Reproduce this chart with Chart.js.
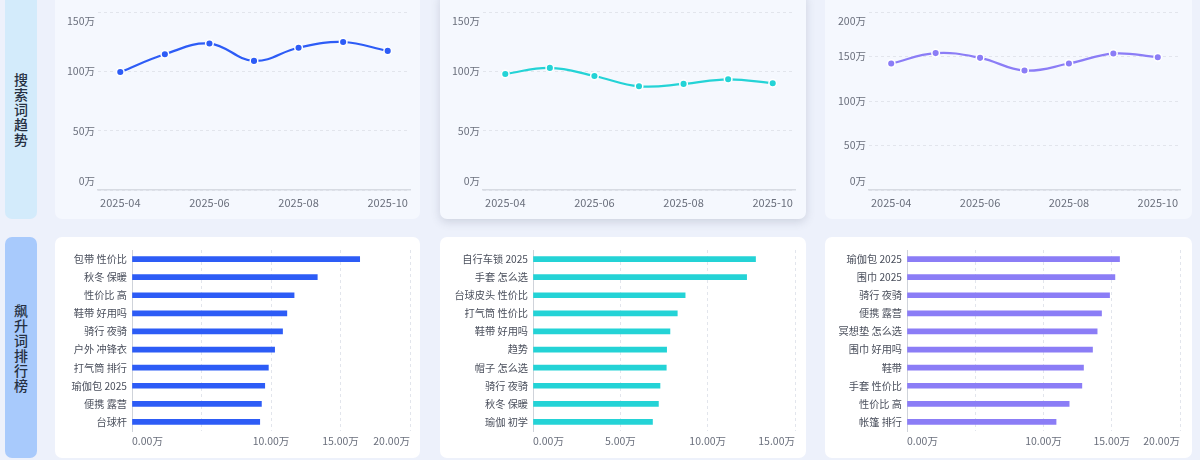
<!DOCTYPE html>
<html><head><meta charset="utf-8">
<script src="https://cdn.jsdelivr.net/npm/chart.js@4.4.1/dist/chart.umd.min.js"></script>
<style>
html,body{margin:0;padding:0;width:1200px;height:460px;overflow:hidden;background:#edf1fb;font-family:"Noto Sans CJK SC","Noto Sans",sans-serif;}
.side{position:absolute;left:5px;width:32px;display:flex;align-items:center;justify-content:center;}
.side span{display:block;text-align:center;font-size:14px;line-height:15px;color:#263042;font-weight:500;}
.s1{top:-8px;height:227px;border-radius:7px;background:#d3ebfb;}
.s1 span{margin-top:8px;}
.s2{top:237px;height:221px;border-radius:7px;background:#a8cafc;}
.panel{position:absolute;border-radius:7px;}
.top{top:-8px;height:227px;background:#f5f8fe;}
.bot{top:237px;height:221px;background:#ffffff;}
.hl{box-shadow:0 3px 10px rgba(60,70,100,0.18);}
.cw{position:absolute;}
</style></head><body>
<div class="side s1"><span>搜<br>索<br>词<br>趋<br>势</span></div>
<div class="side s2"><span>飙<br>升<br>词<br>排<br>行<br>榜</span></div>

<div class="panel top" style="left:55px;width:365px;"></div>
<div class="panel top hl" style="left:440px;width:366px;"></div>
<div class="panel top" style="left:825px;width:367px;"></div>
<div class="panel bot" style="left:55px;width:365px;"></div>
<div class="panel bot" style="left:440px;width:366px;"></div>
<div class="panel bot" style="left:825px;width:367px;"></div>

<div class="cw" style="left:55px;top:0;width:365px;height:219px;"><canvas id="l1"></canvas></div>
<div class="cw" style="left:440px;top:0;width:366px;height:219px;"><canvas id="l2"></canvas></div>
<div class="cw" style="left:825px;top:0;width:367px;height:219px;"><canvas id="l3"></canvas></div>
<div class="cw" style="left:55px;top:238px;width:365px;height:220px;"><canvas id="b1"></canvas></div>
<div class="cw" style="left:440px;top:238px;width:366px;height:220px;"><canvas id="b2"></canvas></div>
<div class="cw" style="left:825px;top:238px;width:367px;height:220px;"><canvas id="b3"></canvas></div>

<script>
// ---- data ----
const trendMonths = ['2025-04','2025-05','2025-06','2025-07','2025-08','2025-09','2025-10'];
const trendA = [99.4, 114.4, 123.4, 108.8, 119.9, 124.7, 117.2];
const trendB = [97.8, 102.9, 96.1, 87.4, 89.4, 93.3, 90.0];
const trendC = [142.1, 153.8, 148.5, 134.2, 142.1, 153.3, 149.2];
const trendMaxA = 150, trendMaxB = 150, trendMaxC = 200;

const rankLabelsA = ['包带 性价比','秋冬 保暖','性价比 高','鞋带 好用吗','骑行 夜骑','户外 冲锋衣','打气筒 排行','瑜伽包 2025','便携 露营','台球杆'];
const rankValuesA = [16.38, 13.33, 11.66, 11.14, 10.83, 10.26, 9.81, 9.55, 9.31, 9.19];
const rankLabelsB = ['自行车锁 2025','手套 怎么选','台球皮头 性价比','打气筒 性价比','鞋带 好用吗','趋势','帽子 怎么选','骑行 夜骑','秋冬 保暖','瑜伽 初学'];
const rankValuesB = [12.74, 12.23, 8.71, 8.26, 7.84, 7.65, 7.63, 7.27, 7.18, 6.84];
const rankLabelsC = ['瑜伽包 2025','围巾 2025','骑行 夜骑','便携 露营','冥想垫 怎么选','围巾 好用吗','鞋带','手套 性价比','性价比 高','帐篷 排行'];
const rankValuesC = [15.57, 15.23, 14.84, 14.25, 13.93, 13.59, 12.93, 12.81, 11.88, 10.92];
const rankTicksA = ['0.00万','','10.00万','15.00万','20.00万'];
const rankTicksB = ['0.00万','5.00万','10.00万','15.00万'];
const rankTicksC = ['0.00万','','10.00万','15.00万','20.00万'];
const rankMaxA = 20, rankMaxB = 15, rankMaxC = 20;

const colA = '#2d5cf6', colB = '#24d3d6', colC = '#8b7df6';
const FONT = '"Noto Sans CJK SC","Noto Sans",sans-serif';
const tickColor = '#6a6f7c';
const gridColor = '#e2e5ec';

Chart.defaults.animation = false;
Chart.defaults.font.family = FONT;

function lineChart(id, data, color, max, yWidth, padRight) {
  new Chart(document.getElementById(id), {
    type: 'line',
    data: { labels: trendMonths, datasets: [{
      data, borderColor: color, backgroundColor: color, borderWidth: 2.2,
      tension: 0.4, pointRadius: 3.8, pointBorderColor: '#ffffff', pointBorderWidth: 1.5,
      pointBackgroundColor: color, fill: false }] },
    options: {
      responsive: true, maintainAspectRatio: false,
      layout: { padding: { top: 12, right: padRight, left: 0, bottom: 0 } },
      plugins: { legend: { display: false }, tooltip: { enabled: false } },
      scales: {
        x: {
          offset: true,
          grid: { display: false, drawTicks: false },
          border: { display: true, color: '#d7dbe3', width: 1.5 },
          ticks: { autoSkip: true, maxTicksLimit: 4, maxRotation: 0, padding: 6,
                   color: tickColor, font: { size: 11 } },
          afterFit(s) { s.height = 29; s.paddingLeft = 0; s.paddingRight = 0; }
        },
        y: {
          min: 0, max: max,
          grid: { color: gridColor, drawTicks: false },
          border: { display: false, dash: [3, 3] },
          ticks: { stepSize: 50, autoSkip: false, padding: 3, color: tickColor,
                   font: { size: 10.5, lineHeight: 1.72 },
                   callback(v, i, t) {
                     const s = v + '万';
                     if (i === 0) return [s, ''];
                     if (i === t.length - 1) return ['', s];
                     return s;
                   } },
          afterFit(s) { s.width = yWidth; s.paddingTop = 0; s.paddingBottom = 0; }
        }
      }
    }
  });
}

function barChart(id, labels, values, color, max, tickLabels, yWidth, padRight) {
  new Chart(document.getElementById(id), {
    type: 'bar',
    data: { labels, datasets: [{ data: values, backgroundColor: color, barThickness: 5, borderWidth: 0 }] },
    options: {
      indexAxis: 'y',
      responsive: true, maintainAspectRatio: false,
      layout: { padding: { top: 12, right: padRight, left: 0, bottom: 0 } },
      plugins: { legend: { display: false }, tooltip: { enabled: false } },
      scales: {
        x: {
          min: 0, max: max,
          grid: { color: gridColor, drawTicks: false },
          border: { display: false, dash: [3, 3] },
          ticks: { stepSize: 5, autoSkip: false, align: 'inner', maxRotation: 0, padding: 4,
                   color: tickColor, font: { size: 10.5 },
                   callback(v, i) { return tickLabels[i]; } },
          afterFit(s) { s.height = 27; s.paddingLeft = 0; s.paddingRight = 0; }
        },
        y: {
          grid: { display: false, drawTicks: false },
          border: { display: true, color: '#cfd3da', width: 1 },
          ticks: { autoSkip: false, padding: 5, color: '#4a4f5c', font: { size: 10.2 } },
          afterFit(s) { s.width = yWidth; s.paddingTop = 0; s.paddingBottom = 0; }
        }
      }
    }
  });
}

lineChart('l1', trendA, colA, trendMaxA, 43, 10);
lineChart('l2', trendB, colB, trendMaxB, 43, 11);
lineChart('l3', trendC, colC, trendMaxC, 44, 12);
barChart('b1', rankLabelsA, rankValuesA, colA, rankMaxA, rankTicksA, 77, 10);
barChart('b2', rankLabelsB, rankValuesB, colB, rankMaxB, rankTicksB, 93, 11);
barChart('b3', rankLabelsC, rankValuesC, colC, rankMaxC, rankTicksC, 82, 12);
</script>
</body></html>
